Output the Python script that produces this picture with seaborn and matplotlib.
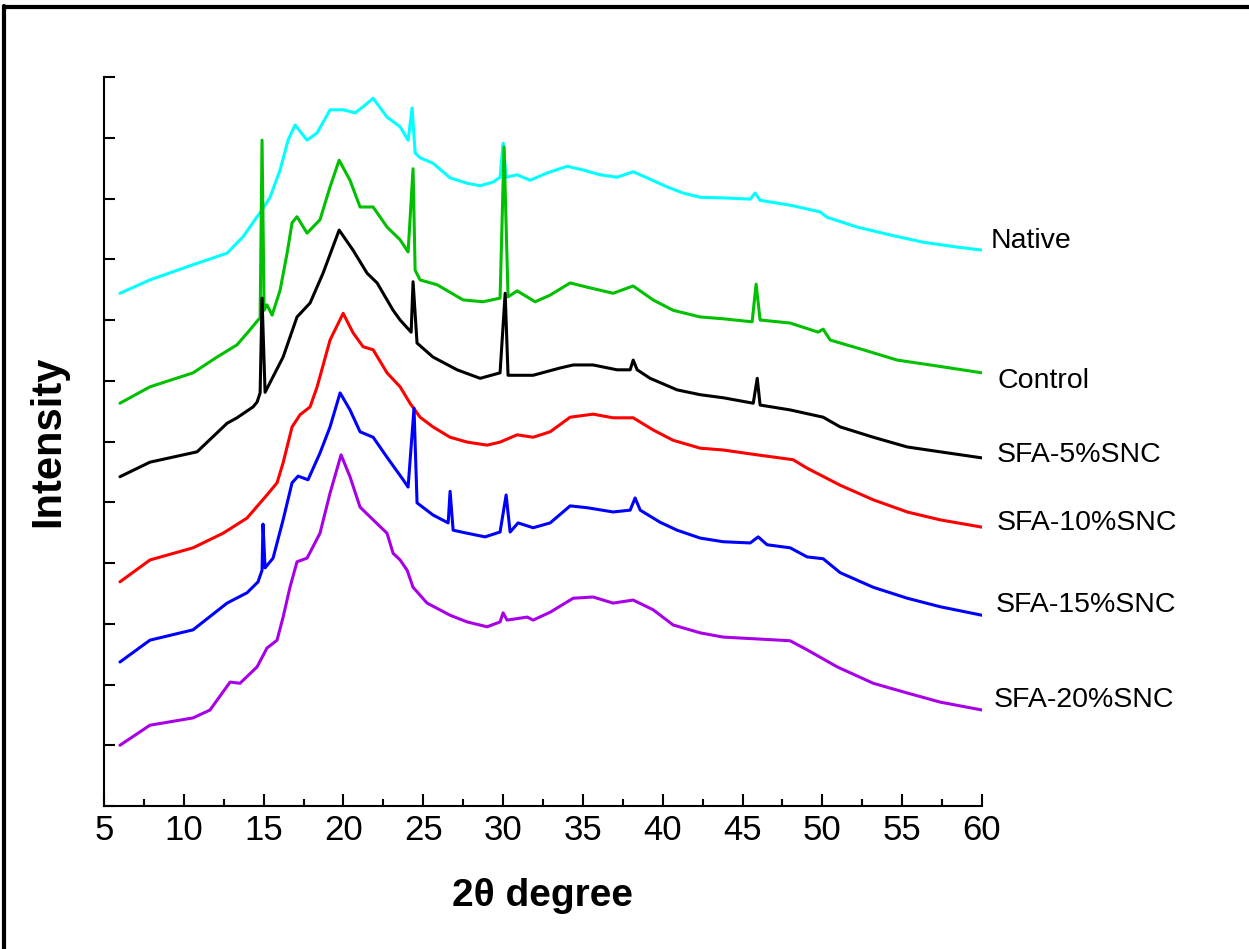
import matplotlib
matplotlib.use("Agg")
import matplotlib.pyplot as plt
from matplotlib import font_manager
from matplotlib.lines import Line2D
from matplotlib.ticker import MultipleLocator
import seaborn as sns
import pandas as pd

# ---------------- data (2theta, stacked intensity in arbitrary units) ----------------
native_x = [6.00, 7.88, 10.58, 12.71, 13.71, 14.59, 14.90, 15.40, 16.03, 16.53, 16.97, 17.72, 18.35,
            19.16, 19.98, 20.73, 21.23, 21.86, 22.73, 23.55, 24.05, 24.30, 24.49, 24.80, 25.61, 26.68,
            27.75, 28.56, 29.37, 29.81, 30.00, 30.19, 30.88, 31.69, 32.76, 34.01, 35.01, 36.08, 37.14,
            38.15, 39.02, 40.28, 41.28, 42.35, 43.79, 45.48, 45.79, 46.10, 47.98, 49.86, 50.30, 52.18,
            54.25, 56.32, 58.45, 60.00]
native_y = [8.44, 8.66, 8.91, 9.10, 9.37, 9.70, 9.81, 10.02, 10.47, 10.96, 11.21, 10.96, 11.08,
            11.46, 11.46, 11.41, 11.51, 11.65, 11.34, 11.18, 10.96, 11.49, 10.75, 10.67, 10.58, 10.34,
            10.25, 10.21, 10.27, 10.35, 10.91, 10.35, 10.39, 10.30, 10.42, 10.53, 10.47, 10.39, 10.35,
            10.44, 10.34, 10.19, 10.09, 10.02, 10.01, 9.99, 10.09, 9.97, 9.89, 9.78, 9.69, 9.53,
            9.40, 9.28, 9.20, 9.15]

control_x = [6.00, 7.88, 10.58, 12.08, 13.33, 14.15, 14.65, 14.78, 14.90, 15.03, 15.21, 15.53, 16.03,
             16.47, 16.78, 17.09, 17.72, 18.53, 19.16, 19.73, 20.41, 21.04, 21.86, 22.73, 23.55, 24.05,
             24.36, 24.49, 24.80, 25.87, 27.50, 28.75, 29.81, 30.06, 30.31, 30.88, 32.01, 32.95, 34.20,
             35.27, 36.89, 38.15, 39.40, 40.65, 42.35, 43.79, 45.60, 45.85, 46.10, 47.98, 49.74, 50.05,
             50.49, 52.56, 54.69, 56.76, 60.00]
control_y = [6.63, 6.90, 7.13, 7.39, 7.59, 7.84, 8.00, 8.03, 10.96, 8.16, 8.25, 8.08, 8.49,
             9.10, 9.60, 9.70, 9.43, 9.65, 10.19, 10.63, 10.30, 9.86, 9.86, 9.53, 9.32, 9.12,
             10.49, 8.82, 8.66, 8.58, 8.33, 8.30, 8.36, 10.85, 8.38, 8.48, 8.30, 8.41, 8.61,
             8.54, 8.44, 8.56, 8.33, 8.16, 8.05, 8.02, 7.97, 8.59, 8.00, 7.95, 7.80, 7.85,
             7.67, 7.51, 7.34, 7.26, 7.13]

sfa5_x = [6.00, 7.88, 10.83, 12.71, 13.33, 14.34, 14.59, 14.78, 14.90, 15.09, 16.22, 17.09, 17.91,
          18.72, 19.73, 20.60, 21.48, 22.11, 23.11, 23.55, 24.24, 24.36, 24.61, 25.61, 27.12, 28.56,
          29.81, 30.13, 30.31, 31.88, 33.57, 34.39, 35.64, 37.14, 37.96, 38.15, 38.40, 39.21, 40.90,
          42.35, 43.79, 45.67, 45.92, 46.10, 47.98, 50.05, 51.12, 53.19, 55.32, 57.38, 60.00]
sfa5_y = [5.42, 5.66, 5.83, 6.30, 6.39, 6.57, 6.65, 6.80, 8.36, 6.81, 7.39, 8.05, 8.28,
          8.77, 9.48, 9.15, 8.77, 8.61, 8.16, 8.00, 7.80, 8.63, 7.62, 7.39, 7.18, 7.04,
          7.13, 8.44, 7.09, 7.09, 7.21, 7.26, 7.26, 7.18, 7.18, 7.34, 7.18, 7.04, 6.85,
          6.77, 6.72, 6.63, 7.04, 6.60, 6.52, 6.40, 6.24, 6.07, 5.91, 5.83, 5.73]

sfa10_x = [6.00, 7.88, 10.58, 12.46, 13.96, 15.21, 15.84, 16.22, 16.78, 17.28, 17.91, 18.35, 19.16,
           19.98, 20.60, 21.23, 21.86, 22.73, 23.55, 24.17, 24.80, 25.61, 26.68, 27.75, 29.00, 29.81,
           30.88, 31.88, 32.95, 34.20, 35.64, 36.89, 38.15, 39.40, 40.65, 42.35, 43.79, 45.92, 48.17,
           49.05, 51.12, 53.19, 55.32, 57.38, 60.00]
sfa10_y = [3.69, 4.05, 4.25, 4.49, 4.74, 5.12, 5.32, 5.65, 6.24, 6.44, 6.57, 6.90, 7.67,
           8.11, 7.79, 7.56, 7.51, 7.13, 6.90, 6.63, 6.40, 6.24, 6.07, 5.99, 5.94, 5.99,
           6.11, 6.07, 6.16, 6.40, 6.45, 6.39, 6.39, 6.19, 6.02, 5.89, 5.86, 5.78, 5.70,
           5.56, 5.28, 5.04, 4.84, 4.71, 4.59]

sfa15_x = [6.00, 7.88, 10.58, 12.71, 13.96, 14.65, 14.90, 14.96, 15.09, 15.59, 16.22, 16.78, 17.16,
           17.78, 18.53, 19.16, 19.79, 20.41, 21.04, 21.86, 22.73, 23.74, 24.05, 24.42, 24.61, 25.61,
           26.56, 26.68, 26.87, 27.75, 28.87, 29.81, 30.19, 30.44, 30.94, 31.88, 32.95, 34.20, 35.27,
           36.89, 37.96, 38.27, 38.59, 39.84, 40.90, 42.35, 43.79, 45.48, 45.98, 46.54, 47.98, 49.05,
           50.05, 51.12, 53.19, 55.32, 57.38, 60.00]
sfa15_y = [2.37, 2.73, 2.90, 3.34, 3.51, 3.69, 3.88, 4.64, 3.92, 4.08, 4.71, 5.32, 5.43,
           5.37, 5.81, 6.24, 6.80, 6.52, 6.16, 6.07, 5.74, 5.37, 5.25, 6.55, 4.99, 4.79,
           4.66, 5.18, 4.54, 4.49, 4.43, 4.51, 5.12, 4.51, 4.66, 4.58, 4.66, 4.94, 4.91,
           4.84, 4.87, 5.07, 4.87, 4.67, 4.54, 4.41, 4.35, 4.33, 4.43, 4.30, 4.25, 4.10,
           4.07, 3.84, 3.60, 3.42, 3.28, 3.14]

sfa20_x = [6.00, 7.88, 10.58, 11.64, 12.90, 13.52, 14.59, 15.21, 15.84, 16.22, 16.65, 17.09, 17.72,
           18.53, 19.16, 19.85, 20.41, 21.04, 21.86, 22.73, 23.11, 23.55, 23.99, 24.36, 25.24, 26.68,
           27.75, 29.00, 29.81, 30.00, 30.25, 31.51, 31.88, 32.95, 34.39, 35.64, 36.89, 38.15, 39.40,
           40.65, 42.35, 43.79, 45.92, 47.98, 49.05, 50.93, 53.19, 55.32, 57.38, 60.00]
sfa20_y = [1.00, 1.33, 1.45, 1.58, 2.04, 2.02, 2.29, 2.60, 2.73, 3.11, 3.60, 4.02, 4.08,
           4.49, 5.15, 5.78, 5.42, 4.92, 4.71, 4.49, 4.16, 4.05, 3.88, 3.60, 3.34, 3.14,
           3.03, 2.95, 3.03, 3.18, 3.06, 3.11, 3.06, 3.19, 3.42, 3.44, 3.34, 3.39, 3.23,
           2.98, 2.85, 2.78, 2.75, 2.72, 2.57, 2.29, 2.02, 1.86, 1.71, 1.58]

series_names = ["Native", "Control", "SFA-5%SNC", "SFA-10%SNC", "SFA-15%SNC", "SFA-20%SNC"]
series_x = [native_x, control_x, sfa5_x, sfa10_x, sfa15_x, sfa20_x]
series_y = [native_y, control_y, sfa5_y, sfa10_y, sfa15_y, sfa20_y]
series_colors = ["#00FFFF", "#00C000", "#000000", "#FF0000", "#0000FF", "#A800E6"]

x_ticks = [5, 10, 15, 20, 25, 30, 35, 40, 45, 50, 55, 60]

# label anchor positions (layout only)
label_pos = [(60.51, 9.30), (60.95, 7.00), (60.95, 5.78), (60.95, 4.66), (60.83, 3.31), (60.70, 1.74)]

# ---------------- style ----------------
sns.set_style("ticks")
avail = {f.name for f in font_manager.fontManager.ttflist}
narrow = "Liberation Sans Narrow" if "Liberation Sans Narrow" in avail else "Liberation Sans"
plt.rcParams["font.family"] = [narrow, "DejaVu Sans"]
plt.rcParams["text.color"] = "black"
plt.rcParams["axes.labelcolor"] = "black"
plt.rcParams["xtick.color"] = "black"
plt.rcParams["ytick.color"] = "black"

fig = plt.figure(figsize=(12.49, 9.49), dpi=100)
ax = fig.add_axes([104 / 1249, 1 - 806 / 949, (982 - 104) / 1249, (806 - 77) / 949])

frames = []
for name, xs, ys in zip(series_names, series_x, series_y):
    frames.append(pd.DataFrame({"theta": xs, "intensity": ys, "sample": name}))
df = pd.concat(frames, ignore_index=True)

sns.lineplot(data=df, x="theta", y="intensity", hue="sample", hue_order=series_names,
             palette=series_colors, sort=False, estimator=None, linewidth=2.2,
             legend=False, ax=ax)

for name, (lx, ly) in zip(series_names, label_pos):
    ax.text(lx, ly, name, fontsize=20.5, ha="left", va="center", clip_on=False,
            color="black", family=[narrow, "DejaVu Sans"])

ax.set_xlim(5, 60)
ax.set_ylim(0, 12)
ax.set_xticks(x_ticks)
ax.xaxis.set_minor_locator(MultipleLocator(2.5))
ax.set_yticks(range(0, 13))
ax.set_yticklabels([])
ax.tick_params(axis="x", which="major", direction="in", length=9, width=1.5,
               labelsize=25, pad=6, colors="black")
ax.tick_params(axis="x", which="minor", direction="in", length=5, width=1.5, colors="black")
ax.tick_params(axis="y", which="major", direction="in", length=8, width=1.5, colors="black")
for s in ["top", "right"]:
    ax.spines[s].set_visible(False)
for s in ["left", "bottom"]:
    ax.spines[s].set_linewidth(1.5)
    ax.spines[s].set_color("black")

ax.set_xlabel("2θ degree", fontsize=28, fontweight="bold", labelpad=22, color="black",
              family=["Liberation Sans", "DejaVu Sans"])
ax.set_ylabel("Intensity", fontsize=30, fontweight="bold", labelpad=22, color="black",
              family=["Liberation Sans", "DejaVu Sans"])

# outer frame (left and top edges visible)
fig.add_artist(Line2D([4 / 1249, 4 / 1249], [0, 1 - 6 / 949], transform=fig.transFigure,
                      color="black", linewidth=3))
fig.add_artist(Line2D([4 / 1249, 1.0], [1 - 7 / 949, 1 - 7 / 949], transform=fig.transFigure,
                      color="black", linewidth=3))

fig.savefig("out.png", dpi=100)
